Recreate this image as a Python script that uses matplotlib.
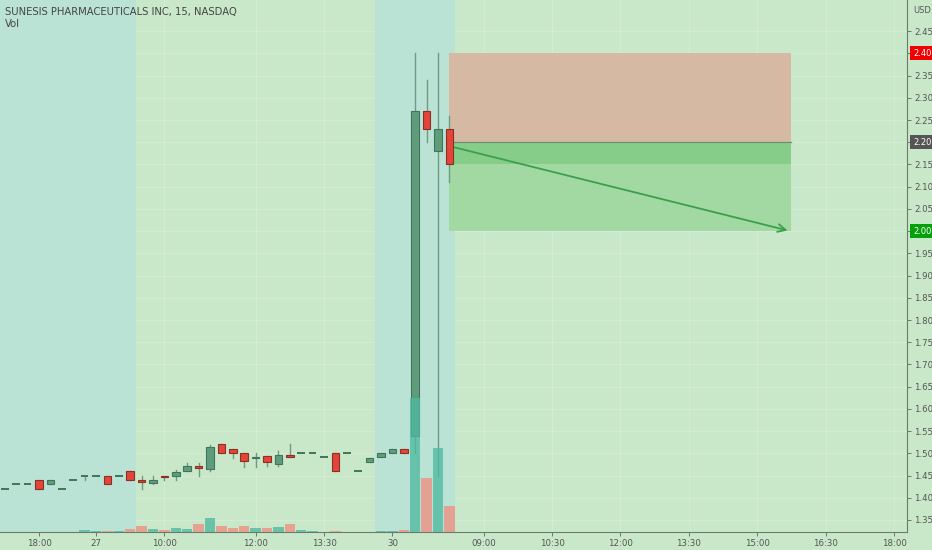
import matplotlib
matplotlib.use("Agg")
import matplotlib.pyplot as plt
from matplotlib.patches import Rectangle

# 15 min bars, index based axis (TradingView skips empty bars)
opens  = [1.42, 1.43, 1.43, 1.44, 1.43, 1.42, 1.44, 1.45, 1.45, 1.45,
          1.45, 1.46, 1.44, 1.433, 1.448, 1.449, 1.46, 1.472, 1.465, 1.52,
          1.51, 1.50, 1.49, 1.493, 1.477, 1.496, 1.50, 1.50, 1.491, 1.50,
          1.50, 1.46, 1.48, 1.491, 1.50, 1.51, 1.54, 2.27, 2.18, 2.23]
highs  = [1.42, 1.43, 1.43, 1.44, 1.44, 1.42, 1.44, 1.45, 1.45, 1.45,
          1.45, 1.46, 1.45, 1.449, 1.45, 1.4625, 1.479, 1.479, 1.518, 1.52,
          1.51, 1.50, 1.50, 1.493, 1.505, 1.521, 1.50, 1.50, 1.491, 1.50,
          1.50, 1.46, 1.49, 1.50, 1.51, 1.51, 2.40, 2.34, 2.40, 2.26]
lows   = [1.42, 1.43, 1.43, 1.42, 1.43, 1.42, 1.44, 1.44, 1.45, 1.43,
          1.45, 1.44, 1.42, 1.43, 1.44, 1.441, 1.46, 1.45, 1.46, 1.50,
          1.49, 1.47, 1.47, 1.471, 1.471, 1.491, 1.50, 1.50, 1.491, 1.46,
          1.50, 1.46, 1.48, 1.491, 1.50, 1.50, 1.50, 2.20, 1.45, 2.11]
closes = [1.42, 1.43, 1.43, 1.42, 1.44, 1.42, 1.44, 1.45, 1.45, 1.43,
          1.45, 1.44, 1.435, 1.441, 1.446, 1.457, 1.472, 1.467, 1.515, 1.50,
          1.50, 1.482, 1.492, 1.48, 1.496, 1.491, 1.50, 1.50, 1.491, 1.46,
          1.50, 1.46, 1.49, 1.50, 1.51, 1.50, 2.27, 2.23, 2.23, 2.15]
# volume, thousand shares
volumes = [0.3, 0.3, 0.3, 0.3, 0.3, 0.3, 0.3, 4, 1, 2,
           1, 5.4, 12, 6, 4, 8.6, 6, 15.4, 28.6, 12.6,
           7.4, 12.6, 8, 8, 10, 15.4, 4, 1, 0.3, 2,
           0.3, 0.3, 0.3, 2, 1, 4, 268, 108, 168, 52]

tick_pos = [3, 8, 14, 22, 28, 34, 42, 48, 54, 60, 66, 72, 78]
tick_lab = ['18:00', '27', '10:00', '12:00', '13:30', '30', '09:00',
            '10:30', '12:00', '13:30', '15:00', '16:30', '18:00']
ext_hours = [(-1, 11.5), (32.5, 39.5)]

entry, stop, target, last = 2.20, 2.40, 2.00, 2.15
pos_start, pos_end = 39, 69
arrow_start = 2.19

bg = '#c9e7c9'
teal = '#bae3d5'
up_fill, up_edge = '#5f9c7c', '#3f7559'
dn_fill, dn_edge = '#e2463a', '#8e2e24'
wick = '#6e9a86'

fig = plt.figure(figsize=(9.32, 5.5), dpi=100)
fig.patch.set_facecolor(bg)
ax = fig.add_axes([0, 18 / 550, 907 / 932, 532 / 550])
ax.set_facecolor(bg)
ax.set_xlim(-0.42, 79.14)
ax.set_ylim(1.323, 2.520)

yt = [round(1.35 + 0.05 * k, 2) for k in range(23)]
for y in yt:
    ax.axhline(y, color='white', lw=0.8, alpha=0.2, zorder=0)
for x in tick_pos:
    ax.axvline(x, color='white', lw=0.8, alpha=0.2, zorder=0)
for a, b in ext_hours:
    ax.axvspan(a, b, color=teal, lw=0, zorder=1)

# position tool
w = pos_end - pos_start
ax.add_patch(Rectangle((pos_start, entry), w, stop - entry, color='#d6b9a3', lw=0, zorder=2))
ax.add_patch(Rectangle((pos_start, target), w, entry - target, color='#a2d9a2', lw=0, zorder=2))
ax.add_patch(Rectangle((pos_start, last), w, entry - last, color='#86cd89', lw=0, zorder=2))
ax.plot([pos_start, pos_end], [entry, entry], color='#6f8f73', lw=0.9, zorder=3)
ax.annotate('', xy=(pos_end - 0.1, target), xytext=(pos_start + 0.2, arrow_start),
            arrowprops=dict(arrowstyle='->', color='#3c9f4b', lw=1.3,
                            mutation_scale=14), zorder=4)

# candles
bw = 0.66
for i in range(len(opens)):
    o, h, l, c = opens[i], highs[i], lows[i], closes[i]
    up = c >= o
    ax.plot([i, i], [l, h], color=wick, lw=1.0, zorder=5)
    if abs(c - o) < 0.002:
        ax.plot([i - bw / 2, i + bw / 2], [c, c], color=up_edge if up else dn_edge,
                lw=1.4, zorder=6, solid_capstyle='butt')
    else:
        ax.add_patch(Rectangle((i - bw / 2, min(o, c)), bw, abs(c - o),
                               facecolor=up_fill if up else dn_fill,
                               edgecolor=up_edge if up else dn_edge, lw=0.8, zorder=6))

# volume
vax = ax.twinx()
vax.set_ylim(0, max(volumes) / 0.252)
vcol = ['#4fb99f' if closes[i] >= opens[i] else '#ef8f82' for i in range(len(volumes))]
vax.bar(range(len(volumes)), volumes, width=0.92, color=vcol, alpha=0.78, zorder=7)
vax.set_yticks([])
for s in vax.spines.values():
    s.set_visible(False)

# axes styling
for s in ['top', 'left']:
    ax.spines[s].set_visible(False)
ax.spines['right'].set_color('#6b7a6b')
ax.spines['bottom'].set_color('#6b7a6b')
ax.yaxis.tick_right()
ax.set_yticks(yt)
ax.set_yticklabels(['' if y in (2.40, 2.20, 2.00) else f'{y:.2f}' for y in yt])
ax.tick_params(axis='y', colors='#6b7a6b', labelcolor='#555555', labelsize=6.2,
               length=3, width=0.7, pad=2)
ax.set_xticks(tick_pos)
ax.set_xticklabels(tick_lab)
ax.tick_params(axis='x', colors='#6b7a6b', labelcolor='#555555', labelsize=6.2,
               length=3, width=0.7, pad=2)

for y, col in [(2.40, '#f00000'), (2.20, '#555555'), (2.00, '#05a00a')]:
    ax.text(1.0065, y, f'{y:.2f}', transform=ax.get_yaxis_transform(), ha='left', va='center',
            fontsize=6.0, color='white',
            bbox=dict(boxstyle='square,pad=0.3', fc=col, ec='none'), zorder=10)
ax.text(1.007, 0.981, 'USD', transform=ax.transAxes, ha='left', va='center',
        fontsize=6.0, color='#555555')

fig.text(5 / 932, 1 - 12 / 550, 'SUNESIS PHARMACEUTICALS INC, 15, NASDAQ',
         fontsize=7.2, color='#444444', va='center', ha='left')
fig.text(5 / 932, 1 - 24 / 550, 'Vol', fontsize=7.2, color='#444444', va='center', ha='left')

fig.savefig('out.png', dpi=100, facecolor=bg)
